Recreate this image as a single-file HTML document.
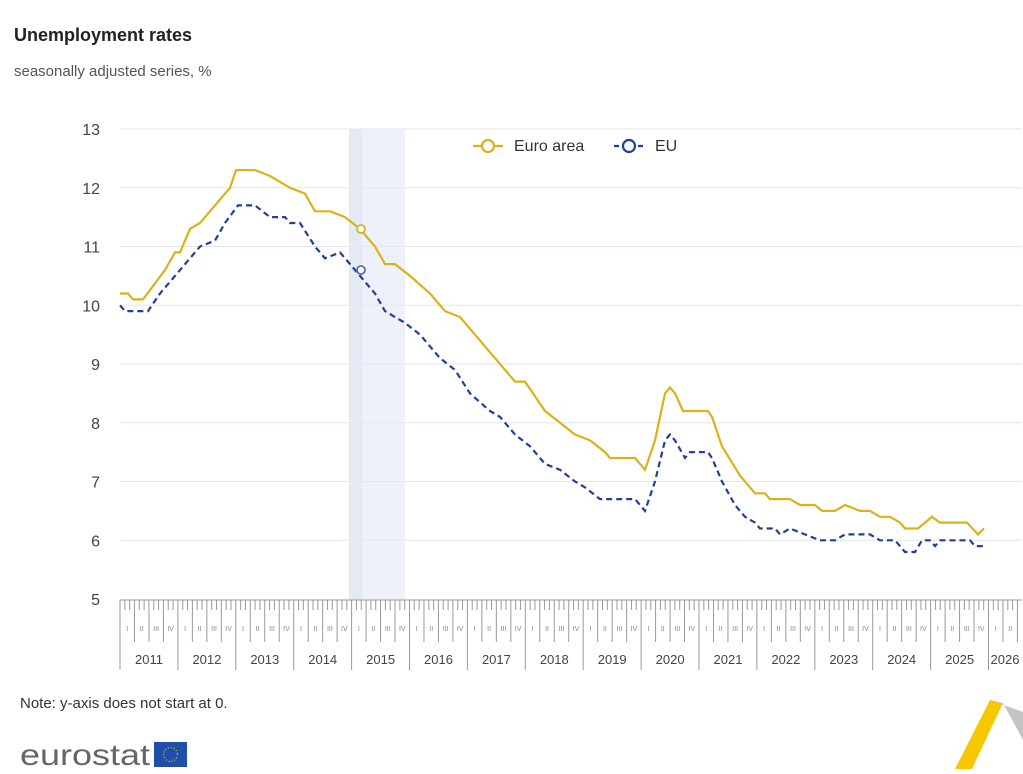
<!DOCTYPE html><html><head><style>body{margin:0;background:#fff;font-family:"Liberation Sans",sans-serif}</style></head><body>
<svg id="s" width="1023" height="769" xmlns="http://www.w3.org/2000/svg" font-family="Liberation Sans, sans-serif">
<text x="14" y="41" font-size="18" font-weight="bold" fill="#222">Unemployment rates</text>
<text x="14" y="76" font-size="15" fill="#555">seasonally adjusted series, %</text>
<rect x="349" y="129" width="56" height="471" fill="#eef1fa"/>
<rect x="349" y="129" width="13" height="471" fill="#e4e9f6"/>
<g id="grid"></g>
<g id="ax"></g>
<polyline id="ea" fill="none" stroke="#d9b21c" stroke-width="2.2"/>
<polyline id="eu" fill="none" stroke="#233f95" stroke-width="2.2" stroke-dasharray="6,4"/>
<circle cx="361" cy="229" r="4" fill="#fff" stroke="#d9b21c" stroke-width="1.8"/>
<circle cx="361" cy="270" r="4" fill="#fff" stroke="#5a6fb0" stroke-width="1.8"/>
<line x1="473" y1="146" x2="503" y2="146" stroke="#d9b21c" stroke-width="2.2"/><circle cx="488" cy="146" r="6" fill="#fff" stroke="#d9b21c" stroke-width="2.2"/>
<text x="514" y="151" font-size="16" fill="#333">Euro area</text>
<line x1="614" y1="146" x2="644" y2="146" stroke="#233f95" stroke-width="2.2" stroke-dasharray="5,3"/><circle cx="629" cy="146" r="6" fill="#fff" stroke="#233f95" stroke-width="2.2"/>
<text x="655" y="151" font-size="16" fill="#333">EU</text>
<text x="20" y="708" font-size="15" fill="#333">Note: y-axis does not start at 0.</text>
<text x="20" y="765" font-size="30" fill="#666" textLength="130" lengthAdjust="spacingAndGlyphs">eurostat</text>
<rect x="154" y="742" width="33" height="25" fill="#1f4fa8"/>
<circle cx="170.5" cy="754.5" r="7" fill="none" stroke="#e8c600" stroke-width="1.3" stroke-dasharray="1,2"/>
<polygon points="955,769 972,769 1003,703 990,700" fill="#f7c800"/>
<polygon points="990,700 1003,703 1023,740 1023,712" fill="#c4c4c4"/>
</svg>
<script>
const NS="http://www.w3.org/2000/svg",Y=v=>129+(13-v)*58.75;
function el(p,t,a,txt){const e=document.createElementNS(NS,t);for(const k in a)e.setAttribute(k,a[k]);if(txt)e.textContent=txt;document.getElementById(p).appendChild(e);}
for(let v=5;v<=13;v++){if(v>5)el("grid","line",{x1:120,x2:1022,y1:Y(v),y2:Y(v),stroke:"#e3e6ef"});el("grid","text",{x:100,y:Y(v)+6,"font-size":16,fill:"#444","text-anchor":"end"},String(v));}
el("ax","line",{x1:120,x2:1022,y1:600,y2:600,stroke:"#999"});
const pm=57.9/12;const q=["I","II","III","IV"];
for(let m=0;m<=186;m++){const x=120+m*pm;let h=m%12==0?70:(m%3==0?42:10);if(x>1022)break;el("ax","line",{x1:x,x2:x,y1:600,y2:600+h,stroke:"#999","stroke-width":1});
if(m%3==0&&m<186){el("ax","text",{x:x+pm*1.5,y:631,"font-size":7,fill:"#888","text-anchor":"middle"},q[(m/3)%4]);}
if(m%12==0&&m<186){const yr=2011+m/12;el("ax","text",{x:yr==2026?1005:x+29,y:664,"font-size":13,fill:"#444","text-anchor":"middle"},String(yr));}}
const ea=[[120,10.2],[128,10.2],[133,10.1],[143,10.1],[165,10.6],[175,10.9],[180,10.9],[190,11.3],[200,11.4],[210,11.6],[220,11.8],[230,12.0],[236,12.3],[255,12.3],[270,12.2],[290,12.0],[305,11.9],[315,11.6],[330,11.6],[345,11.5],[360,11.3],[375,11.0],[385,10.7],[395,10.7],[410,10.5],[430,10.2],[445,9.9],[460,9.8],[490,9.2],[500,9.0],[515,8.7],[525,8.7],[545,8.2],[560,8.0],[575,7.8],[590,7.7],[605,7.5],[610,7.4],[635,7.4],[645,7.2],[655,7.7],[665,8.5],[670,8.6],[675,8.5],[683,8.2],[708,8.2],[712,8.1],[722,7.6],[740,7.1],[755,6.8],[765,6.8],[770,6.7],[790,6.7],[800,6.6],[815,6.6],[822,6.5],[835,6.5],[845,6.6],[860,6.5],[870,6.5],[880,6.4],[890,6.4],[900,6.3],[905,6.2],[918,6.2],[925,6.3],[932,6.4],[940,6.3],[967,6.3],[978,6.1],[984,6.2]];
const eu=[[120,10.0],[125,9.9],[148,9.9],[160,10.2],[175,10.5],[200,11.0],[215,11.1],[225,11.4],[238,11.7],[255,11.7],[270,11.5],[285,11.5],[290,11.4],[300,11.4],[315,11.0],[325,10.8],[340,10.9],[350,10.7],[365,10.4],[375,10.2],[385,9.9],[405,9.7],[420,9.5],[440,9.1],[455,8.9],[470,8.5],[490,8.2],[500,8.1],[515,7.8],[530,7.6],[545,7.3],[560,7.2],[575,7.0],[585,6.9],[600,6.7],[635,6.7],[645,6.5],[655,7.0],[665,7.7],[670,7.8],[675,7.7],[685,7.4],[690,7.5],[708,7.5],[712,7.4],[722,7.0],[735,6.6],[745,6.4],[755,6.3],[760,6.2],[775,6.2],[780,6.1],[790,6.2],[805,6.1],[820,6.0],[835,6.0],[845,6.1],[870,6.1],[880,6.0],[895,6.0],[905,5.8],[915,5.8],[922,6.0],[930,6.0],[935,5.9],[940,6.0],[970,6.0],[975,5.9],[984,5.9]];
const pts=a=>a.map(p=>p[0]+","+Y(p[1]).toFixed(1)).join(" ");
document.getElementById("ea").setAttribute("points",pts(ea));
document.getElementById("eu").setAttribute("points",pts(eu));
</script></body></html>
